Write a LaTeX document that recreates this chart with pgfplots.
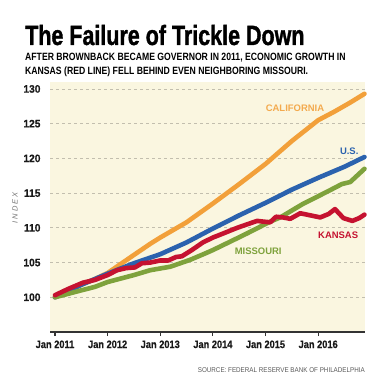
\documentclass[border=0pt]{standalone}
\usepackage{fontspec}
\usepackage{pgfplots}
\pgfplotsset{compat=1.18}
\setmainfont{Liberation Sans}
\newfontfamily\titlefont[FakeStretch=0.77,FakeBold=1.2]{Liberation Sans Bold}
\newfontfamily\condfont[FakeStretch=0.82]{Liberation Sans Bold}
\newfontfamily\tickfont[FakeStretch=0.86,FakeBold=0.5]{Liberation Sans Bold}
\newfontfamily\ytickfont[FakeStretch=0.95,FakeBold=0.5]{Liberation Sans Bold}
\newfontfamily\srcfont[FakeStretch=0.9]{Liberation Sans}
\newfontfamily\idxfont[LetterSpace=25]{Liberation Sans}
\definecolor{bgcol}{HTML}{FAF6E0}
\definecolor{cal}{HTML}{F2A03A}
\definecolor{usb}{HTML}{2B62AE}
\definecolor{mog}{HTML}{7EA23C}
\definecolor{ksr}{HTML}{C51230}
\definecolor{gridc}{HTML}{C2BEAE}
\begin{document}
\begin{tikzpicture}
\begin{axis}[
  scale only axis,
  width=315bp, height=250bp,
  xmin=-0.095, xmax=5.89,
  ymin=95, ymax=131,
  axis lines*=left,
  y axis line style={draw=none},
  x axis line style={draw=black!80, line width=1.4bp},
  axis background/.style={fill=bgcol},
  xtick={0,1,2,3,4,5},
  xticklabels={Jan 2011,Jan 2012,Jan 2013,Jan 2014,Jan 2015,Jan 2016},
  ytick={100,105,110,115,120,125,130},
  tick align=outside,
  major tick length=4bp,
  xtick style={draw=black!80, line width=1.2bp},
  ytick style={draw=none},
  ymajorgrids,
  major grid style={gridc, dash pattern=on 3bp off 3bp, line width=0.7bp},
  xticklabel style={font=\tickfont\fontsize{10.8}{12}\selectfont, text=black!90, yshift=-1bp},
  yticklabel style={font=\ytickfont\fontsize{10.8}{12}\selectfont, text=black!90, xshift=-2bp},
  /pgf/number format/assume math mode=true,
  clip=false,
  every axis plot/.append style={line width=4.6bp, line join=round, line cap=round},
]
\addplot[cal] coordinates {
(0,100.0) (0.25,100.9) (0.5,101.8) (0.75,102.6) (1.0,103.5) (1.25,104.8) (1.5,106.1)
(1.81,107.7) (2.0,108.6) (2.5,110.8) (3.0,113.5) (3.5,116.3) (4.0,119.2) (4.5,122.5)
(5.0,125.5) (5.3,126.7) (5.6,128.0) (5.88,129.3)};
\addplot[usb] coordinates {
(0,100.0) (0.5,101.8) (1.0,103.4) (1.5,104.9) (2.0,106.2) (2.5,107.9) (3.0,109.9)
(3.5,111.8) (4.0,113.6) (4.5,115.5) (5.0,117.2) (5.5,118.8) (5.88,120.2)};
\addplot[mog] coordinates {
(0,100.0) (0.5,101.0) (0.76,101.5) (1.0,102.2) (1.5,103.2) (1.81,103.9) (2.19,104.4)
(2.57,105.4) (2.85,106.3) (3.0,106.8) (3.38,108.2) (3.65,109.2) (4.09,110.9) (4.28,111.5)
(4.7,113.4) (5.17,115.2) (5.45,116.3) (5.61,116.6) (5.88,118.5)};
\addplot[ksr] coordinates {
(0,100.3) (0.25,101.2) (0.53,102.1) (0.76,102.5) (1.0,103.2) (1.18,103.9) (1.35,104.2)
(1.52,104.3) (1.65,104.9) (1.81,105.0) (2.0,105.3) (2.15,105.3) (2.3,105.8) (2.41,105.9)
(2.6,106.8) (2.81,107.9) (3.0,108.6) (3.2,109.2) (3.46,110.0) (3.65,110.5) (3.84,111.0)
(3.95,110.9) (4.09,110.8) (4.2,111.6) (4.33,111.5) (4.47,111.3) (4.66,112.1) (4.85,111.8)
(5.04,111.5) (5.2,112.0) (5.32,112.7) (5.48,111.4) (5.65,111.0) (5.78,111.4) (5.88,111.9)};
\node[font=\bfseries\fontsize{9.5}{11}\selectfont, text=cal!90!white] at (axis cs:4.56,127.2) {CALIFORNIA};
\node[font=\bfseries\fontsize{9.5}{11}\selectfont, text=usb] at (axis cs:5.59,121.1) {U.S.};
\node[font=\bfseries\fontsize{9.5}{11}\selectfont, text=ksr] at (axis cs:5.38,109.0) {KANSAS};
\node[font=\bfseries\fontsize{9.5}{11}\selectfont, text=mog] at (axis cs:3.86,106.7) {MISSOURI};
\end{axis}
\path[use as bounding box] (-50bp,-52bp) rectangle (342bp,332bp);
\node[anchor=base west, inner sep=0pt, font=\titlefont\fontsize{28}{30}\selectfont] at (-25bp,287bp) {The Failure of Trickle Down};
\node[anchor=base west, inner sep=0pt, font=\condfont\fontsize{10.6}{12}\selectfont] at (-25bp,271bp) {AFTER BROWNBACK BECAME GOVERNOR IN 2011, ECONOMIC GROWTH IN};
\node[anchor=base west, inner sep=0pt, font=\condfont\fontsize{10.6}{12}\selectfont] at (-25bp,257.7bp) {KANSAS (RED LINE) FELL BEHIND EVEN NEIGHBORING MISSOURI.};
\node[rotate=90, inner sep=0pt, font=\idxfont\fontsize{7.5}{9}\selectfont\itshape, text=black!55] at (-35bp,124bp) {INDEX};
\node[anchor=base east, inner sep=0pt, font=\srcfont\fontsize{7}{8}\selectfont, text=black!65] at (315bp,-40bp) {SOURCE: FEDERAL RESERVE BANK OF PHILADELPHIA};
\end{tikzpicture}
\end{document}
